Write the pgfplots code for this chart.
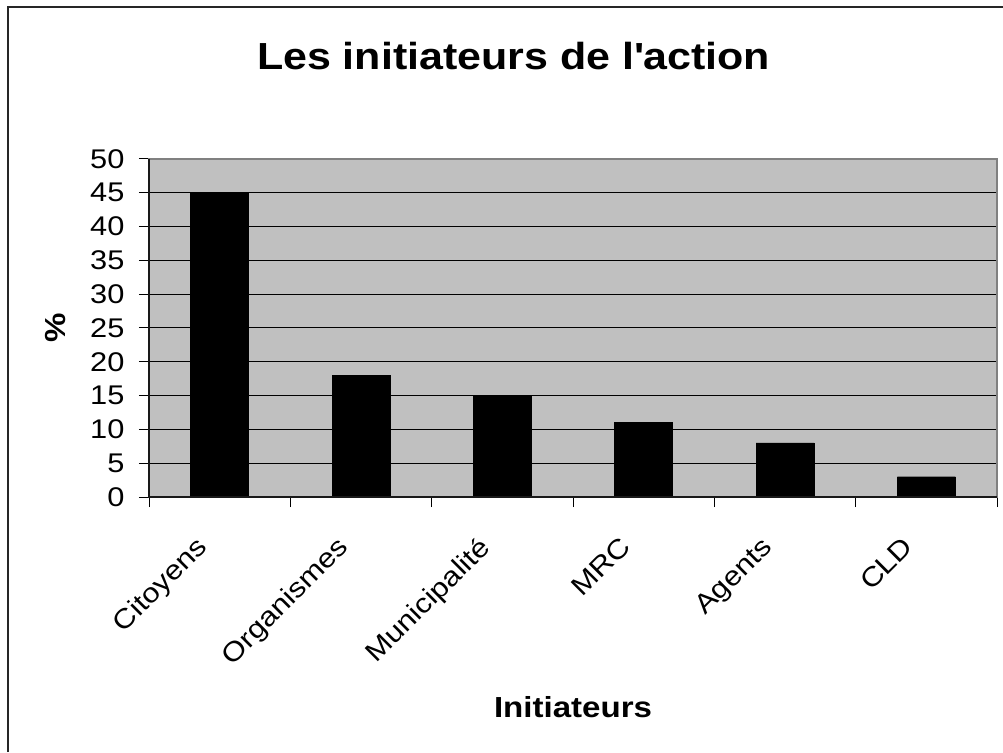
\documentclass[border=0pt]{standalone}
\usepackage{fontspec}
\setmainfont{Liberation Sans}[FakeStretch=1.14]
\usepackage{pgfplots}
\pgfplotsset{compat=1.18}
\definecolor{plotgray}{HTML}{C0C0C0}
\definecolor{bordergray}{HTML}{808080}
\begin{document}
\begin{tikzpicture}
\useasboundingbox (0,0) rectangle (1003pt,752pt);
\draw[line width=1.5pt, black!85] (8pt,0pt) -- (8pt,745pt) -- (1003pt,745pt);
\begin{axis}[
  scale only axis, width=848pt, height=338pt,
  at={(149pt,255pt)}, anchor=south west,
  ybar, bar width=58pt,
  xmin=-0.5, xmax=5.5, ymin=0, ymax=50,
  xtick={-0.5,0.5,...,5.5},
  xticklabels={},
  extra x ticks={0,1,2,3,4,5},
  extra x tick labels={Citoyens,Organismes,Municipalité,MRC,Agents,CLD},
  extra x tick style={tick style={draw=none},
    xticklabel style={xshift=-25pt, yshift=-23pt, rotate=45, anchor=north east}},
  ytick={0,5,...,50},
  yticklabel style={xshift=-11pt},
  tick pos=left,
  tick align=outside,
  major tick length=10pt,
  tick style={black, line width=1pt},
  ymajorgrids, major grid style={black, line width=1pt},
  axis background/.style={fill=plotgray},
  axis line style={bordergray, line width=2pt},
  tick label style={font=\fontsize{27}{30}\selectfont},
  /pgf/number format/assume math mode=true,
  every axis title/.style={at={(axis description cs:0.4298,1)}, anchor=base, yshift=89pt,
    font=\bfseries\fontsize{37.7}{40}\selectfont},
  title={Les initiateurs de l\textquotesingle action},
  every axis x label/.style={at={(axis description cs:0.5,0)}, anchor=base, yshift=-220pt,
    font=\bfseries\fontsize{29}{32}\selectfont},
  xlabel={Initiateurs},
  every axis y label/.style={at={(axis description cs:-0.1108,0.5)}, rotate=90, anchor=center,
    font=\bfseries\fontsize{29}{32}\selectfont},
  ylabel={\%},
  after end axis/.code={\draw[black!90, line width=2pt] (rel axis cs:0,1) -- (rel axis cs:0,0) -- (rel axis cs:1,0);},
]
\addplot[fill=black, draw=black] coordinates {(0,45) (1,18) (2,15) (3,11) (4,8) (5,3)};
\end{axis}
\end{tikzpicture}
\end{document}
